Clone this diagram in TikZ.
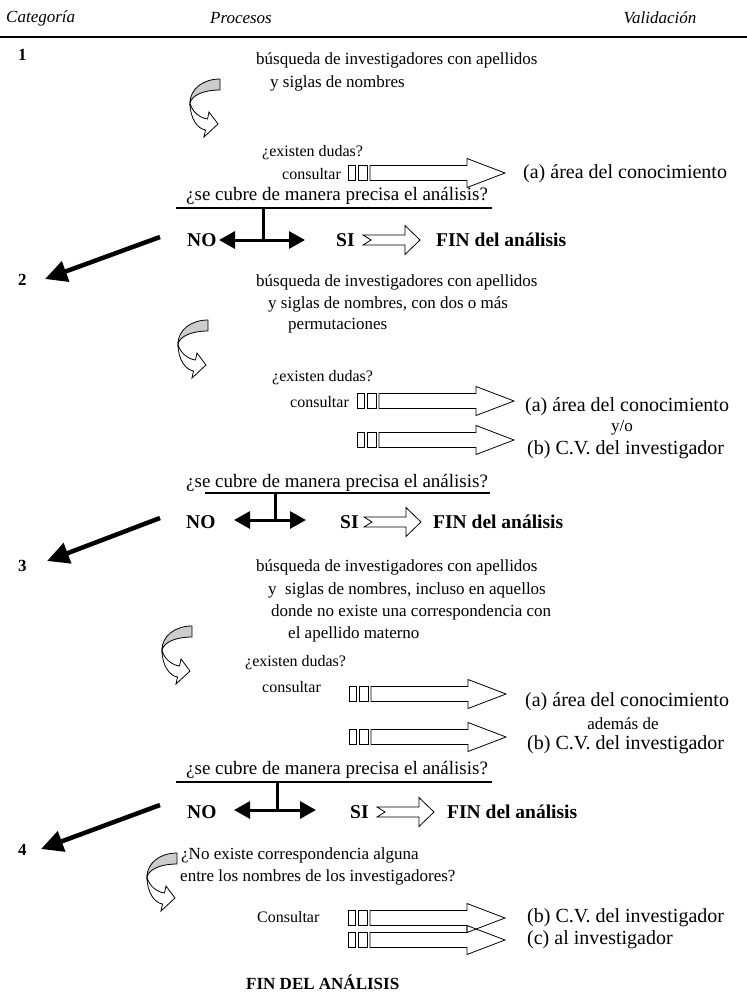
\documentclass[tikz,border=0pt]{standalone}
\usepackage{fontspec}
\setmainfont{Liberation Serif}
\usetikzlibrary{arrows.meta}
\begin{document}
\begin{tikzpicture}[x=1pt,y=-1pt,
  txt/.style={anchor=west,inner sep=0pt,font=\fontsize{17}{20}\selectfont},
  small/.style={anchor=west,inner sep=0pt,font=\fontsize{16}{19}\selectfont},
  qtxt/.style={anchor=west,inner sep=0pt,font=\fontsize{19}{22}\selectfont},
  vtxt/.style={anchor=west,inner sep=0pt,font=\fontsize{20}{23}\selectfont},
  ctxt/.style={inner sep=0pt,font=\fontsize{17}{20}\selectfont},
  bf/.style={anchor=west,inner sep=0pt,font=\fontsize{17}{20}\selectfont\bfseries},
  bfl/.style={anchor=west,inner sep=0pt,font=\fontsize{19.5}{22}\selectfont\bfseries},
  hdr/.style={inner sep=0pt,font=\fontsize{17}{20}\selectfont\itshape},
  rule/.style={line width=2pt},
  hrule/.style={line width=2.2pt},
  dbl/.style={line width=3pt,{Triangle[length=16pt,width=17pt]}-{Triangle[length=16pt,width=17pt]}},
  stem/.style={line width=3pt},
  big/.style={line width=4.5pt,-{Triangle[length=22pt,width=21pt]}},
  curvarrow/.pic={
    \filldraw[fill=gray!40,line width=0.8pt] (0,0) .. controls (-17,0) and (-30,10) .. (-30,24) .. controls (-28,16) and (-16,11) .. (0,11) -- cycle;
    \filldraw[fill=white,line width=0.8pt] (-30,24) .. controls (-30,40) and (-22,50) .. (-14.5,51) -- (-16,58) -- (-2,45) -- (-11,33) -- (-12.5,40) .. controls (-20,39) and (-28,33) .. (-30,24) -- cycle;
  },
  stripearrow/.pic={
    \draw[line width=0.8pt] (0,-7.5) rectangle (7,7.5);
    \draw[line width=0.8pt] (10,-7.5) rectangle (19.5,7.5);
    \draw[line width=0.8pt] (22,-7.5) -- (119,-7.5) -- (119,-14.5) -- (157,0) -- (119,14.5) -- (119,7.5) -- (22,7.5) -- cycle;
  },
  notcharrow/.pic={
    \draw[line width=0.8pt] (0,-5) -- (42,-5) -- (42,-14.5) -- (57,0) -- (42,14.5) -- (42,5) -- (0,5) -- (8,0) -- cycle;
  }
]
\useasboundingbox (0,0) rectangle (747,996);

% header
\node[hdr,anchor=west] (hcat) at (6,18) {Categoría};
\node[hdr] (hproc) at (241,18) {Procesos};
\node[hdr] (hval) at (660,18) {Validación};
\coordinate (hL) at (0,37);
\coordinate (hR) at (747,37);
\draw[hrule] (hL) -- (hR);

% ---------- section 1
\node[bf] (n1) at (18,55) {1};
\node[txt] (s1a) at (256,60) {búsqueda de investigadores con apellidos};
\node[txt] (s1b) at (270,83) {y siglas de nombres};
\pic at (220,79) {curvarrow};
\node[small] (s1c) at (262,153) {¿existen dudas?};
\node[small] (s1d) at (282,174) {consultar};
\pic at (348,173) {stripearrow};
\node[vtxt] (s1e) at (523,174) {(a) área del conocimiento};
\node[qtxt] (s1q) at (186,196) {¿se cubre de manera precisa el análisis?};
\coordinate (s1rL) at (176,208);
\coordinate (s1rR) at (492,208);
\draw[rule] (s1rL) -- (s1rR);
\coordinate (s1st) at (263,208);
\coordinate (s1sb) at (263,240);
\draw[stem] (s1st) -- (s1sb);
\coordinate (s1aL) at (219,240);
\coordinate (s1aR) at (305,240);
\draw[dbl] (s1aL) -- (s1aR);
\node[bfl] (s1no) at (187,240) {NO};
\node[bfl] (s1si) at (336,240) {SI};
\pic at (363,240) {notcharrow};
\node[bfl] (s1fin) at (436,240) {FIN del análisis};
\coordinate (b1s) at (160,237);
\coordinate (b1e) at (45,279);
\draw[big] (b1s) -- (b1e);

% ---------- section 2
\node[bf] (n2) at (18,280) {2};
\node[txt] (s2a) at (256,282) {búsqueda de investigadores con apellidos};
\node[txt] (s2b) at (268,304) {y siglas de nombres, con dos o más};
\node[txt] (s2c) at (288,326) {permutaciones};
\pic at (208,320) {curvarrow};
\node[small] (s2d) at (272,378) {¿existen dudas?};
\node[small] (s2e) at (290,402) {consultar};
\pic at (357,401) {stripearrow};
\pic at (357,440) {stripearrow};
\node[vtxt] (s2f) at (525,407) {(a) área del conocimiento};
\node[ctxt] (s2g) at (622,428) {y/o};
\node[vtxt] (s2h) at (527,450) {(b) C.V. del investigador};
\node[qtxt] (s2q) at (186,483) {¿se cubre de manera precisa el análisis?};
\coordinate (s2rL) at (205,493);
\coordinate (s2rR) at (490,493);
\draw[rule] (s2rL) -- (s2rR);
\coordinate (s2st) at (275,493);
\coordinate (s2sb) at (275,520);
\draw[stem] (s2st) -- (s2sb);
\coordinate (s2aL) at (234,520);
\coordinate (s2aR) at (306,520);
\draw[dbl] (s2aL) -- (s2aR);
\node[bfl] (s2no) at (186,522) {NO};
\node[bfl] (s2si) at (340,522) {SI};
\pic at (364,522) {notcharrow};
\node[bfl] (s2fin) at (433,522) {FIN del análisis};
\coordinate (b2s) at (160,518);
\coordinate (b2e) at (47,561);
\draw[big] (b2s) -- (b2e);

% ---------- section 3
\node[bf] (n3) at (18,566) {3};
\node[txt] (s3a) at (256,567) {búsqueda de investigadores con apellidos};
\node[txt] (s3b) at (268,590) {y\ \ siglas de nombres, incluso en aquellos};
\node[txt] (s3c) at (271,612) {donde no existe una correspondencia con};
\node[txt] (s3d) at (288,634) {el apellido materno};
\pic at (192,626) {curvarrow};
\node[small] (s3e) at (245,663) {¿existen dudas?};
\node[small] (s3f) at (262,687) {consultar};
\pic at (349,694) {stripearrow};
\pic at (349,737) {stripearrow};
\node[vtxt] (s3g) at (525,702) {(a) área del conocimiento};
\node[ctxt] (s3h) at (623,724) {además de};
\node[vtxt] (s3i) at (527,745) {(b) C.V. del investigador};
\node[qtxt] (s3q) at (186,770) {¿se cubre de manera precisa el análisis?};
\coordinate (s3rL) at (176,782);
\coordinate (s3rR) at (492,782);
\draw[rule] (s3rL) -- (s3rR);
\coordinate (s3st) at (277,782);
\coordinate (s3sb) at (277,810);
\draw[stem] (s3st) -- (s3sb);
\coordinate (s3aL) at (234,810);
\coordinate (s3aR) at (316,810);
\draw[dbl] (s3aL) -- (s3aR);
\node[bfl] (s3no) at (187,812) {NO};
\node[bfl] (s3si) at (350,812) {SI};
\pic at (377,812) {notcharrow};
\node[bfl] (s3fin) at (447,812) {FIN del análisis};
\coordinate (b3s) at (160,805);
\coordinate (b3e) at (41,849);
\draw[big] (b3s) -- (b3e);

% ---------- section 4
\node[bf] (n4) at (18,850) {4};
\pic at (177,853) {curvarrow};
\node[txt] (s4a) at (181,855) {¿No existe correspondencia alguna};
\node[txt] (s4b) at (180,877) {entre los nombres de los investigadores?};
\node[small] (s4c) at (257,917) {Consultar};
\pic at (348,918) {stripearrow};
\pic at (348,940) {stripearrow};
\node[vtxt] (s4d) at (527,918) {(b) C.V. del investigador};
\node[vtxt] (s4e) at (527,940) {(c) al investigador};
\node[bf] (s4fin) at (246,982) {FIN DEL ANÁLISIS};
\end{tikzpicture}
\end{document}
